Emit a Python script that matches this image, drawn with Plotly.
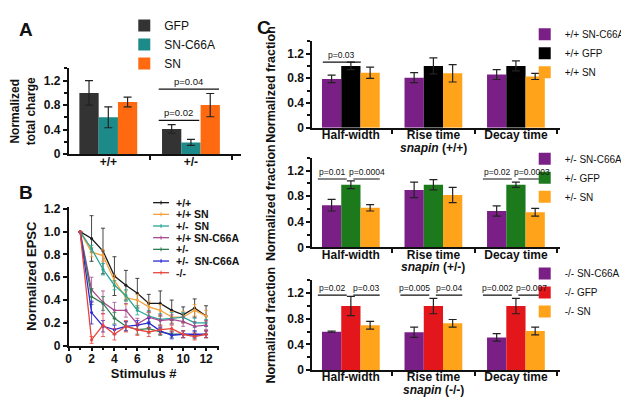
import plotly.graph_objects as go

W, H = 629, 404
FONT = "Liberation Sans, Arial, Helvetica, sans-serif"

# ---------------- Panel A data ----------------
a_genotypes = ["+/+", "+/-"]
a_names = ["GFP", "SN-C66A", "SN"]
a_colors = ["#333333", "#1b8a88", "#ff6a10"]
a_gfp = [1.00, 0.41]
a_gfp_err = [0.20, 0.07]
a_c66a = [0.60, 0.19]
a_c66a_err = [0.17, 0.05]
a_sn = [0.85, 0.80]
a_sn_err = [0.08, 0.19]

# ---------------- Panel B data ----------------
b_stim = [1, 2, 3, 4, 5, 6, 7, 8, 9, 10, 11, 12]
b_names = ["+/+", "+/+ SN", "+/-  SN", "+/+ SN-C66A", "+/-", "+/-  SN-C66A", "-/-"]
b_colors = ["#1a1a1a", "#f5a23a", "#27a596", "#a8488f", "#2f7d52", "#2a2ad6", "#e8433a"]
b_wt = [1.0, 0.94, 0.83, 0.61, 0.53, 0.46, 0.37, 0.37, 0.31, 0.27, 0.33, 0.26]
b_wt_err = [0, 0.20, 0.20, 0.17, 0.13, 0.13, 0.08, 0.11, 0.09, 0.07, 0.08, 0.09]
b_wt_sn = [1.0, 0.82, 0.79, 0.57, 0.42, 0.40, 0.34, 0.31, 0.25, 0.25, 0.31, 0.26]
b_wt_sn_err = [0, 0.04, 0.05, 0.05, 0.06, 0.05, 0.05, 0.05, 0.05, 0.05, 0.05, 0.05]
b_het_sn = [1.0, 0.85, 0.67, 0.53, 0.44, 0.31, 0.26, 0.23, 0.24, 0.25, 0.20, 0.20]
b_het_sn_err = [0, 0.03, 0.05, 0.04, 0.05, 0.04, 0.05, 0.05, 0.05, 0.04, 0.04, 0.03]
b_wt_c66a = [1.0, 0.49, 0.38, 0.31, 0.31, 0.19, 0.25, 0.22, 0.23, 0.21, 0.17, 0.18]
b_wt_c66a_err = [0, 0.11, 0.10, 0.07, 0.06, 0.05, 0.05, 0.05, 0.04, 0.04, 0.04, 0.04]
b_het = [1.0, 0.43, 0.37, 0.24, 0.17, 0.14, 0.15, 0.12, 0.10, 0.10, 0.09, 0.10]
b_het_err = [0, 0.07, 0.06, 0.05, 0.04, 0.04, 0.04, 0.03, 0.03, 0.03, 0.03, 0.03]
b_het_c66a = [1.0, 0.29, 0.17, 0.14, 0.17, 0.18, 0.20, 0.13, 0.09, 0.10, 0.10, 0.10]
b_het_c66a_err = [0, 0.10, 0.05, 0.04, 0.04, 0.04, 0.04, 0.03, 0.03, 0.03, 0.03, 0.03]
b_ko = [1.0, 0.05, 0.18, 0.10, 0.17, 0.14, 0.12, 0.14, 0.15, 0.10, 0.08, 0.10]
b_ko_err = [0, 0.03, 0.10, 0.05, 0.05, 0.05, 0.04, 0.04, 0.03, 0.03, 0.03, 0.03]
b_values = [b_wt, b_wt_sn, b_het_sn, b_wt_c66a, b_het, b_het_c66a, b_ko]
b_errors = [b_wt_err, b_wt_sn_err, b_het_sn_err, b_wt_c66a_err, b_het_err, b_het_c66a_err, b_ko_err]
b_xticks = [0, 2, 4, 6, 8, 10, 12]
b_yticks = [0, 0.2, 0.4, 0.6, 0.8, 1.0, 1.2]
b_yticktext = ["0", "0.2", "0.4", "0.6", "0.8", "1.0", "1.2"]

# ---------------- Panel C data ----------------
c_measures = ["Half-width", "Rise time", "Decay time"]
c_genos = ["+/+", "+/-", "-/-"]
c_labels = [["+/+ SN-C66A", "+/+ GFP", "+/+ SN"],
            ["+/- SN-C66A", "+/- GFP", "+/- SN"],
            ["-/- SN-C66A", "-/- GFP", "-/- SN"]]
c_colors = [["#7a1f86", "#000000", "#ffa31a"],
            ["#7a1f86", "#1c7a1c", "#ffa31a"],
            ["#7a1f86", "#e3161b", "#ffa31a"]]
c1_c66a = [0.79, 0.81, 0.86]; c1_c66a_err = [0.06, 0.08, 0.08]
c1_gfp = [1.00, 1.00, 1.00];  c1_gfp_err = [0.06, 0.13, 0.08]
c1_sn = [0.89, 0.88, 0.83];   c1_sn_err = [0.09, 0.14, 0.05]
c2_c66a = [0.66, 0.90, 0.57]; c2_c66a_err = [0.09, 0.12, 0.08]
c2_gfp = [0.98, 0.98, 0.98];  c2_gfp_err = [0.06, 0.08, 0.04]
c2_sn = [0.62, 0.82, 0.55];   c2_sn_err = [0.05, 0.12, 0.06]
c3_c66a = [0.60, 0.59, 0.51]; c3_c66a_err = [0.01, 0.08, 0.06]
c3_gfp = [1.00, 1.00, 1.00];  c3_gfp_err = [0.15, 0.12, 0.12]
c3_sn = [0.70, 0.73, 0.61];   c3_sn_err = [0.06, 0.06, 0.06]
c_values = [[c1_c66a, c1_gfp, c1_sn], [c2_c66a, c2_gfp, c2_sn], [c3_c66a, c3_gfp, c3_sn]]
c_errors = [[c1_c66a_err, c1_gfp_err, c1_sn_err], [c2_c66a_err, c2_gfp_err, c2_sn_err],
            [c3_c66a_err, c3_gfp_err, c3_sn_err]]

# significance brackets: (group index, span, label, y)
a_sig = [(1, "C66A-GFP", "p=0.02", 0.55), (1, "ALL", "p=0.04", 1.06)]
c_sig = [
    [(0, "WIDE", "p=0.03", 1.06)],
    [(0, "L", "p=0.01", 1.07), (0, "R", "p=0.0004", 1.07),
     (2, "L", "p=0.02", 1.07), (2, "R", "p=0.0003", 1.07)],
    [(0, "L", "p=0.02", 1.17), (0, "R", "p=0.03", 1.17),
     (1, "L", "p=0.005", 1.17), (1, "R", "p=0.04", 1.17),
     (2, "L", "p=0.002", 1.17), (2, "R", "p=0.007", 1.17)],
]
SPANS = {"L": (-0.40, -0.05), "R": (0.03, 0.35), "WIDE": (-0.34, 0.12),
         "C66A-GFP": (-0.39, 0.10), "ALL": (-0.39, 0.34)}


def px(x):
    return x / W


def py(y):
    return 1 - y / H


fig = go.Figure()

# ---- A traces
for name, col, vals, errs in zip(a_names, a_colors, [a_gfp, a_c66a, a_sn],
                                 [a_gfp_err, a_c66a_err, a_sn_err]):
    fig.add_trace(go.Bar(x=a_genotypes, y=vals, name=name, marker_color=col,
                         marker_line_width=0,
                         error_y=dict(type="data", array=errs, color="#222", thickness=1.2, width=4),
                         xaxis="x", yaxis="y", legend="legend"))

# ---- B traces
for name, col, vals, errs in zip(b_names, b_colors, b_values, b_errors):
    fig.add_trace(go.Scatter(x=b_stim, y=vals, name=name, mode="lines+markers",
                             line=dict(color=col, width=1.3),
                             marker=dict(color=col, size=3),
                             error_y=dict(type="data", array=errs, color=col, thickness=0.8, width=2),
                             xaxis="x2", yaxis="y2", showlegend=False))

# ---- C traces
for k in range(3):
    for j in range(3):
        fig.add_trace(go.Bar(x=c_measures, y=c_values[k][j], name=c_labels[k][j],
                             marker_color=c_colors[k][j], marker_line_width=0,
                             error_y=dict(type="data", array=c_errors[k][j], color="#222",
                                          thickness=1.2, width=4),
                             xaxis="x%d" % (k + 3), yaxis="y%d" % (k + 3),
                             legend="legend%d" % (k + 2)))

axis_common = dict(showline=True, linecolor="#111", linewidth=1.5, showgrid=False,
                   zeroline=False, ticks="outside", tickcolor="#111", tickwidth=1.5,
                   ticklen=4, tickfont=dict(family=FONT, size=12, color="#111", weight="bold"))

layout = dict(width=W, height=H, margin=dict(l=0, r=0, t=0, b=0),
              paper_bgcolor="white", plot_bgcolor="white",
              font=dict(family=FONT, size=12, color="#111"),
              barmode="group", bargap=0.3, bargroupgap=0.0)

# Panel A axes
layout["xaxis"] = dict(axis_common, domain=[px(57), px(230)], anchor="y", type="category",
                       range=[-0.48, 1.6], tickson="boundaries", ticklen=4, ticklabelstandoff=-4)
layout["yaxis"] = dict(axis_common, domain=[py(146), py(58)], anchor="x", range=[0, 1.4],
                       dtick=0.4, minor=dict(dtick=0.2, ticks="outside", ticklen=3, tickcolor="#111"),
                       title=dict(text="<b>Normalized<br>total charge</b>", standoff=12,
                                  font=dict(size=12)))
# Panel B axes
layout["xaxis2"] = dict(axis_common, domain=[px(57), px(208)], anchor="y2", range=[0, 13.1],
                        tickvals=b_xticks, ticklabelstandoff=-3,
                        minor=dict(dtick=1, ticks="outside", ticklen=3, tickcolor="#111"),
                        title=dict(text="<b>Stimulus #</b>", standoff=0, font=dict(size=13)))
layout["yaxis2"] = dict(axis_common, domain=[py(343), py(200)], anchor="x2", range=[0, 1.22],
                        tickvals=b_yticks, ticktext=b_yticktext,
                        title=dict(text="<b>Normalized EPSC</b>", standoff=4, font=dict(size=13)))
# Panel C axes
c_dom = [(119, 30), (242, 150), (368, 276)]
for k in range(3):
    xa = "xaxis%d" % (k + 3)
    ya = "yaxis%d" % (k + 3)
    layout[xa] = dict(axis_common, domain=[px(302), px(552)], anchor="y%d" % (k + 3),
                      type="category", range=[-0.47, 2.54], tickson="boundaries", ticklen=4,
                      ticklabelstandoff=-5)
    layout[ya] = dict(axis_common, domain=[py(c_dom[k][0]), py(c_dom[k][1])], anchor="x%d" % (k + 3),
                      range=[0, 1.4], dtick=0.4,
                      minor=dict(dtick=0.2, ticks="outside", ticklen=3, tickcolor="#111"),
                      title=dict(text="<b>Normalized fraction</b>", standoff=9, font=dict(size=12.5)))

# Legends
layout["legend"] = dict(x=px(113), y=py(-1), xanchor="left", yanchor="top",
                        bgcolor="rgba(0,0,0,0)", font=dict(size=12), tracegroupgap=0)
c_leg_top = [8, 136, 254]
for k in range(3):
    layout["legend%d" % (k + 2)] = dict(x=px(516), y=py(c_leg_top[k]), xanchor="left", yanchor="top",
                                        bgcolor="rgba(0,0,0,0)", font=dict(size=10), tracegroupgap=0)

fig.update_layout(**layout)

annotations = []
shapes = []

# Panel letters
for letter, x, y in [("A", 14, 18), ("B", 14, 186), ("C", 254, 16)]:
    annotations.append(dict(text="<b>%s</b>" % letter, x=px(x), y=py(y), xref="paper", yref="paper",
                            showarrow=False, font=dict(size=19, color="#111"), xanchor="center",
                            yanchor="middle"))

# Significance brackets for A
for gi, span, label, yv in a_sig:
    x0, x1 = gi + SPANS[span][0], gi + SPANS[span][1]
    shapes.append(dict(type="line", xref="x", yref="y", x0=x0, x1=x1, y0=yv, y1=yv,
                       line=dict(color="#111", width=1.2)))
    annotations.append(dict(text=label, x=(x0 + x1) / 2, y=yv, xref="x", yref="y", showarrow=False,
                            yanchor="bottom", font=dict(size=9.5)))

# Significance brackets for C
for k in range(3):
    for gi, span, label, yv in c_sig[k]:
        x0, x1 = gi + SPANS[span][0], gi + SPANS[span][1]
        shapes.append(dict(type="line", xref="x%d" % (k + 3), yref="y%d" % (k + 3),
                           x0=x0, x1=x1, y0=yv, y1=yv, line=dict(color="#111", width=1.2)))
        annotations.append(dict(text=label, x=(x0 + x1) / 2, y=yv, xref="x%d" % (k + 3),
                                yref="y%d" % (k + 3), showarrow=False, yanchor="bottom",
                                font=dict(size=8.5)))

# snapin genotype labels under "Rise time"
snap_y = [140, 262, 389]
for k in range(3):
    annotations.append(dict(text="<b><i>snapin</i> (%s)</b>" % c_genos[k], x=1, y=py(snap_y[k]),
                            xref="x%d" % (k + 3), yref="paper", showarrow=False,
                            yanchor="middle", font=dict(size=12)))

# Panel B legend (compact, drawn manually)
b_leg_rows = [196, 208, 220, 232, 244, 256, 268]
for name, col, yrow in zip(b_names, b_colors, b_leg_rows):
    shapes.append(dict(type="line", xref="paper", yref="paper", x0=px(142), x1=px(158),
                       y0=py(yrow), y1=py(yrow), line=dict(color=col, width=1.3)))
    shapes.append(dict(type="line", xref="paper", yref="paper", x0=px(150), x1=px(150),
                       y0=py(yrow - 2), y1=py(yrow + 2), line=dict(color=col, width=1)))
    annotations.append(dict(text="<b>%s</b>" % name.replace("  ", "&nbsp; "), x=px(163), y=py(yrow),
                            xref="paper", yref="paper", showarrow=False, xanchor="left",
                            yanchor="middle", font=dict(size=10.5)))

fig.update_layout(annotations=annotations, shapes=shapes)
fig.write_html("out.html")
